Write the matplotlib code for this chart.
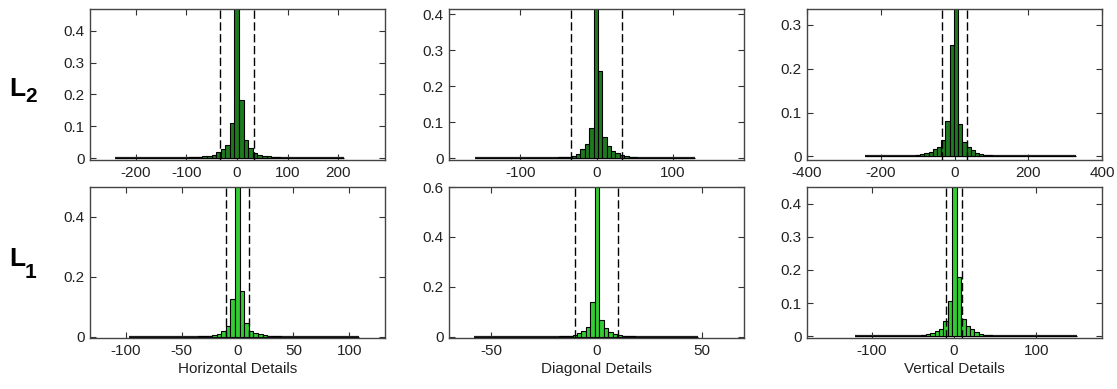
import numpy as np
import matplotlib
matplotlib.use("Agg")
import matplotlib.pyplot as plt

plt.rcParams["font.family"] = ["Liberation Sans", "DejaVu Sans"]
plt.rcParams["axes.unicode_minus"] = False

# histogram values per panel (50 bins each)
# rows: L2 (top), L1 (bottom); columns: horizontal, diagonal, vertical details
l2_h_range = (-240, 212)
l2_h = [0.0] * 15 + [0.001, 0.002, 0.003, 0.003, 0.005, 0.007, 0.011, 0.019, 0.028, 0.04, 0.11,
                     0.47, 0.183, 0.058, 0.031, 0.016, 0.01, 0.007, 0.005, 0.003, 0.002, 0.001] + [0.0] * 13
l2_d_range = (-160, 129)
l2_d = [0.0] * 18 + [0.001, 0.002, 0.003, 0.004, 0.007, 0.011, 0.025, 0.04, 0.084,
                     0.43, 0.242, 0.059, 0.033, 0.021, 0.014, 0.009, 0.005, 0.003, 0.002, 0.001] + [0.0] * 12
l2_v_range = (-242, 330)
l2_v = [0.0] * 10 + [0.001, 0.002, 0.003, 0.005, 0.008, 0.011, 0.016, 0.022, 0.038, 0.08, 0.254,
                     0.36, 0.073, 0.032, 0.021, 0.014, 0.009, 0.006, 0.004, 0.003, 0.002, 0.001] + [0.0] * 18
l1_h_range = (-97, 109)
l1_h = [0.0] * 15 + [0.001, 0.002, 0.003, 0.005, 0.009, 0.018, 0.035, 0.124,
                     0.56, 0.153, 0.044, 0.02, 0.012, 0.007, 0.004, 0.002, 0.002, 0.001] + [0.0] * 17
l1_d_range = (-58, 48)
l1_d = [0.0] * 19 + [0.001, 0.002, 0.004, 0.008, 0.013, 0.023, 0.04, 0.14,
                     0.62, 0.066, 0.033, 0.02, 0.011, 0.007, 0.004, 0.002, 0.001] + [0.0] * 14
l1_v_range = (-121, 149)
l1_v = [0.0] * 13 + [0.001, 0.002, 0.004, 0.007, 0.01, 0.017, 0.022, 0.045, 0.105,
                     0.47, 0.179, 0.052, 0.03, 0.022, 0.013, 0.008, 0.005, 0.003, 0.002, 0.001] + [0.0] * 17

thresh = {"L2": 33, "L1": 10}
xlabels = ["Horizontal Details", "Diagonal Details", "Vertical Details"]

panels = [
    # row, col, range, heights, xlim, ylim, xticks, yticks
    (0, 0, l2_h_range, l2_h, (-290, 292), (-0.006, 0.468), [-200, -100, 0, 100, 200], [0, 0.1, 0.2, 0.3, 0.4]),
    (0, 1, l2_d_range, l2_d, (-194, 194), (-0.005, 0.414), [-100, 0, 100], [0, 0.1, 0.2, 0.3, 0.4]),
    (0, 2, l2_v_range, l2_v, (-400, 400), (-0.008, 0.336), [-400, -200, 0, 200, 400], [0, 0.1, 0.2, 0.3]),
    (1, 0, l1_h_range, l1_h, (-132, 132), (-0.005, 0.5), [-100, -50, 0, 50, 100], [0, 0.2, 0.4]),
    (1, 1, l1_d_range, l1_d, (-70, 70), (-0.006, 0.6), [-50, 0, 50], [0, 0.2, 0.4, 0.6]),
    (1, 2, l1_v_range, l1_v, (-179, 180), (-0.005, 0.45), [-100, 0, 100], [0, 0.1, 0.2, 0.3, 0.4]),
]

W, H = 1117, 389
fig = plt.figure(figsize=(W / 100, H / 100), dpi=100)

lefts = [90, 449, 807]
row_box = [(9, 160), (187, 338)]   # top, bottom in pixels
colors = ["#1f7a1f", "#33cc33"]

for row, col, rng, h, xl, yl, xt, yt in panels:
    top, bot = row_box[row]
    ax = fig.add_axes([lefts[col] / W, 1 - bot / H, 295 / W, (bot - top) / H])
    edges = np.linspace(rng[0], rng[1], len(h) + 1)
    ax.bar(edges[:-1], h, width=np.diff(edges), align="edge",
           color=colors[row], edgecolor="black", linewidth=0.8, zorder=2)
    # flat baseline over the whole data range (zero-height bins)
    ax.plot([rng[0], rng[1]], [0, 0], color="#222222", lw=1.6,
            solid_capstyle="butt", zorder=1)
    t = thresh["L2" if row == 0 else "L1"]
    for xv in (-t, t):
        ax.axvline(xv, color="black", lw=1.0, ls=(0, (6, 2.5)), zorder=3)
    ax.set_xlim(*xl)
    ax.set_ylim(*yl)
    ax.set_xticks(xt)
    ax.set_yticks(yt)
    ax.set_yticklabels([f"{v:g}" for v in yt])
    ax.tick_params(direction="in", top=True, right=True, length=4, pad=4,
                   labelsize=11, colors="#333333", labelcolor="#222222")
    for s in ax.spines.values():
        s.set_color("#444444")
        s.set_linewidth(1.0)
    if row == 1:
        ax.set_xlabel(xlabels[col], fontsize=11, color="#222222", labelpad=3)

# row labels L2 / L1
for name, sub, yl_, ys in (("L", "2", 89, 96), ("L", "1", 259, 273)):
    fig.text(9 / W, 1 - yl_ / H, name, fontsize=19, fontweight="bold", va="center", ha="left")
    fig.text(25 / W, 1 - ys / H, sub, fontsize=15, fontweight="bold", va="center", ha="left")

fig.savefig("out.png", dpi=100)
